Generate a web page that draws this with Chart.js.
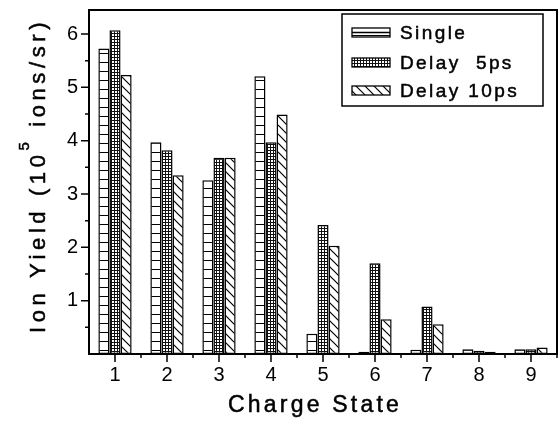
<!DOCTYPE html>
<html>
<head>
<meta charset="utf-8">
<title>Ion Yield vs Charge State</title>
<script src="https://cdn.jsdelivr.net/npm/chart.js@4.4.0/dist/chart.umd.min.js"></script>
<style>
  html, body { margin: 0; padding: 0; background: #fff; }
  canvas { display: block; }
</style>
</head>
<body>
<canvas id="ionChart" width="558" height="424"></canvas>
<script>
// values, in units of 10^5 ions/sr
const chargeStates = [1, 2, 3, 4, 5, 6, 7, 8, 9];
const singlePulse = [5.73, 3.97, 3.26, 5.21, 0.38, 0.04, 0.08, 0.09, 0.09];
const delay5ps    = [6.07, 3.82, 3.68, 3.97, 2.42, 1.70, 0.89, 0.06, 0.09];
const delay10ps   = [5.23, 3.35, 3.68, 4.49, 2.03, 0.65, 0.56, 0.04, 0.12];
const yTickLabels = [1, 2, 3, 4, 5, 6];
const seriesNames = ['Single', 'Delay  5ps', 'Delay 10ps'];

const FONT = '"Liberation Sans", Arial, Helvetica, sans-serif';

// --- hatch patterns like the old printed figure ---
function makePattern(kind) {
    const c = document.createElement('canvas');
    const g = c.getContext('2d');
    if (kind === 'hlines') {
        c.width = 8; c.height = 9;
        g.fillStyle = '#fff'; g.fillRect(0, 0, 8, 9);
        g.fillStyle = '#000'; g.fillRect(0, 8, 8, 1.3);
    } else if (kind === 'grid') {
        c.width = 3; c.height = 3;
        g.fillStyle = '#fff'; g.fillRect(0, 0, 3, 3);
        g.fillStyle = '#111'; g.fillRect(0, 0, 3, 1); g.fillRect(0, 0, 1, 3);
    } else {
        c.width = 9; c.height = 9;
        g.fillStyle = '#fff'; g.fillRect(0, 0, 9, 9);
        g.strokeStyle = '#000'; g.lineWidth = 1.2;
        g.beginPath();
        g.moveTo(-2, -2); g.lineTo(11, 11);
        g.moveTo(7, -2); g.lineTo(11, 2);
        g.moveTo(-2, 7); g.lineTo(2, 11);
        g.stroke();
    }
    return g.createPattern(c, 'repeat');
}

const fills = [makePattern('hlines'), makePattern('grid'), makePattern('diag')];

function points(values) {
    return chargeStates.map((c, i) => ({ x: c, y: values[i] }));
}

// text with a hair of stroke so it looks as heavy as the scan
function heavyText(ctx, s, x, y) {
    ctx.fillText(s, x, y);
    ctx.strokeText(s, x, y);
}

// frame, tick marks, axis titles and the boxed legend
const decorPlugin = {
    id: 'decor',
    afterDraw(chart) {
        const ctx = chart.ctx;
        const a = chart.chartArea;
        const xs = chart.scales.x, ys = chart.scales.y;
        ctx.save();
        ctx.strokeStyle = '#000';
        ctx.lineWidth = 2;
        ctx.strokeRect(a.left, a.top, a.right - a.left, a.bottom - a.top);

        ctx.lineWidth = 1.5;
        ctx.beginPath();
        chargeStates.forEach(c => {
            let px = xs.getPixelForValue(c);
            ctx.moveTo(px, a.bottom); ctx.lineTo(px, a.bottom + 8);
            px = xs.getPixelForValue(c + 0.5);
            ctx.moveTo(px, a.bottom); ctx.lineTo(px, a.bottom + 4);
        });
        yTickLabels.forEach(v => {
            let py = ys.getPixelForValue(v);
            ctx.moveTo(a.left, py); ctx.lineTo(a.left - 8, py);
            py = ys.getPixelForValue(v - 0.5);
            ctx.moveTo(a.left, py); ctx.lineTo(a.left - 4, py);
        });
        ctx.stroke();

        ctx.fillStyle = '#000';
        ctx.lineWidth = 0.5;
        ctx.textBaseline = 'alphabetic';

        // x title
        ctx.font = '23px ' + FONT;
        ctx.letterSpacing = '3.2px';
        ctx.textAlign = 'center';
        heavyText(ctx, 'Charge State', (a.left + a.right) / 2 - 8, 412);

        // y title, rotated, with a superscript 5
        ctx.save();
        ctx.translate(45, 333);
        ctx.rotate(-Math.PI / 2);
        ctx.textAlign = 'left';
        ctx.letterSpacing = '4.6px';
        ctx.font = '22px ' + FONT;
        const p1 = 'Ion Yield (10';
        heavyText(ctx, p1, 0, 0);
        let off = ctx.measureText(p1).width;
        ctx.font = '15px ' + FONT;
        heavyText(ctx, '5', off, -16);
        off += ctx.measureText('5').width;
        ctx.font = '22px ' + FONT;
        heavyText(ctx, ' ions/sr)', off, 0);
        ctx.restore();

        // legend
        ctx.lineWidth = 1.5;
        ctx.strokeRect(342, 14, 201, 92);
        ctx.font = '19px ' + FONT;
        ctx.letterSpacing = '2.4px';
        ctx.textAlign = 'left';
        const rowBase = [39, 69, 97];
        seriesNames.forEach((name, i) => {
            const by = rowBase[i] - 11;
            ctx.fillStyle = fills[i];
            ctx.fillRect(352, by, 38, 9);
            ctx.lineWidth = 1.3;
            ctx.strokeRect(352, by, 38, 9);
            if (i === 0) {
                ctx.beginPath();
                ctx.moveTo(352, by + 4.5); ctx.lineTo(390, by + 4.5);
                ctx.stroke();
            }
            ctx.fillStyle = '#000';
            ctx.lineWidth = 0.5;
            heavyText(ctx, name, 400, rowBase[i]);
        });
        ctx.restore();
    }
};

new Chart(document.getElementById('ionChart'), {
    type: 'bar',
    data: {
        datasets: [
            { label: seriesNames[0], data: points(singlePulse), backgroundColor: fills[0] },
            { label: seriesNames[1], data: points(delay5ps), backgroundColor: fills[1] },
            { label: seriesNames[2], data: points(delay10ps), backgroundColor: fills[2] }
        ].map(d => Object.assign(d, {
            borderColor: '#000',
            borderWidth: 1.5,
            borderSkipped: false,
            categoryPercentage: 0.64,
            barPercentage: 1.0
        }))
    },
    options: {
        responsive: false,
        animation: false,
        devicePixelRatio: 1,
        layout: { padding: { top: 10, right: 1, left: 0, bottom: 0 } },
        plugins: {
            legend: { display: false },
            tooltip: { enabled: false }
        },
        scales: {
            x: {
                type: 'linear',
                offset: false,
                min: 0.5,
                max: 9.5,
                grid: { display: false, drawTicks: false },
                border: { display: false },
                afterBuildTicks: s => { s.ticks = chargeStates.map(v => ({ value: v })); },
                afterFit: s => { s.height = 70; s.paddingLeft = 0; s.paddingRight = 0; },
                ticks: {
                    color: '#000',
                    padding: 9,
                    maxRotation: 0,
                    font: { family: FONT, size: 20 }
                }
            },
            y: {
                min: 0,
                max: 6.45,
                grid: { display: false, drawTicks: false },
                border: { display: false },
                afterBuildTicks: s => { s.ticks = yTickLabels.map(v => ({ value: v })); },
                afterFit: s => { s.width = 89; s.paddingTop = 0; s.paddingBottom = 0; },
                ticks: {
                    color: '#000',
                    padding: 11,
                    font: { family: FONT, size: 20 }
                }
            }
        }
    },
    plugins: [decorPlugin]
});
</script>
</body>
</html>
